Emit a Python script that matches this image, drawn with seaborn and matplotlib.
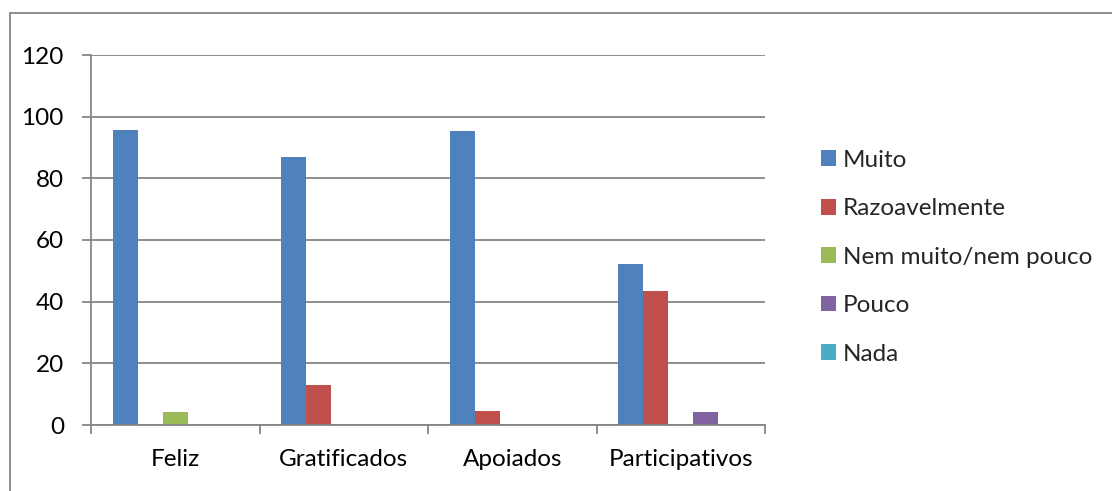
import matplotlib
matplotlib.use("Agg")
import matplotlib.pyplot as plt
import seaborn as sns
import pandas as pd
from matplotlib.lines import Line2D
from matplotlib.patches import Patch

categories = ["Feliz", "Gratificados", "Apoiados", "Participativos"]
series = ["Muito", "Razoavelmente", "Nem muito/nem pouco", "Pouco", "Nada"]
muito = [95.7, 87.0, 95.5, 52.2]
razoavelmente = [0, 13.0, 4.5, 43.5]
nem = [4.3, 0, 0, 0]
pouco = [0, 0, 0, 4.3]
nada = [0, 0, 0, 0]
colors = ["#4F81BD", "#C0504D", "#9BBB59", "#8064A2", "#4BACC6"]
yticks = [0, 20, 40, 60, 80, 100, 120]

values = [muito, razoavelmente, nem, pouco, nada]
rows = []
for s, vals in zip(series, values):
    for c, v in zip(categories, vals):
        rows.append({"cat": c, "serie": s, "val": v})
df = pd.DataFrame(rows)

sns.set_style("white")
plt.rcParams["font.family"] = ["Lato", "DejaVu Sans"]

FS = 17.5
W, H = 1112, 491
fig = plt.figure(figsize=(W / 100, H / 100), dpi=100)
ax = fig.add_axes([91 / W, (H - 425) / H, (765 - 91) / W, 370 / H])

sns.barplot(data=df, x="cat", y="val", hue="serie", order=categories,
            hue_order=series, palette=colors, width=0.742, ax=ax,
            linewidth=0, errorbar=None, legend=False, saturation=1)

ax.set_ylim(0, 120)
ax.set_xlim(-0.5, 3.5)
ax.set_yticks(yticks)
ax.set_xlabel("")
ax.set_ylabel("")
ax.yaxis.grid(True, color="#868686", linewidth=1.3)
ax.set_axisbelow(True)
for sp in ["top", "right"]:
    ax.spines[sp].set_visible(False)
for sp in ["left", "bottom"]:
    ax.spines[sp].set_color("#868686")
    ax.spines[sp].set_linewidth(1.3)

ax.tick_params(axis="y", which="major", left=True, length=6.5, width=1.3,
               color="#868686", labelsize=FS, pad=13, labelcolor="black")
ax.tick_params(axis="x", which="major", bottom=False, length=0,
               labelsize=FS, pad=17, labelcolor="black")
ax.set_xticks([-0.5, 0.5, 1.5, 2.5, 3.5], minor=True)
ax.tick_params(axis="x", which="minor", bottom=True, length=6.5, width=1.3,
               color="#868686")

handles = [Patch(facecolor=c, edgecolor="none") for c in colors]
leg = fig.legend(handles, series, loc="upper left",
                 bbox_to_anchor=(811 / W, 1 - 140 / H),
                 frameon=False, fontsize=FS, handlelength=0.62,
                 handleheight=0.62, handletextpad=0.3, labelspacing=1.13,
                 borderaxespad=0)

fig.add_artist(Line2D([9.5 / W, 9.5 / W], [0, 1 - 12.5 / H],
                      transform=fig.transFigure, color="#868686", lw=1.3))
fig.add_artist(Line2D([9.5 / W, 1], [1 - 12.5 / H, 1 - 12.5 / H],
                      transform=fig.transFigure, color="#868686", lw=1.3))

fig.savefig("out.png", dpi=100)
